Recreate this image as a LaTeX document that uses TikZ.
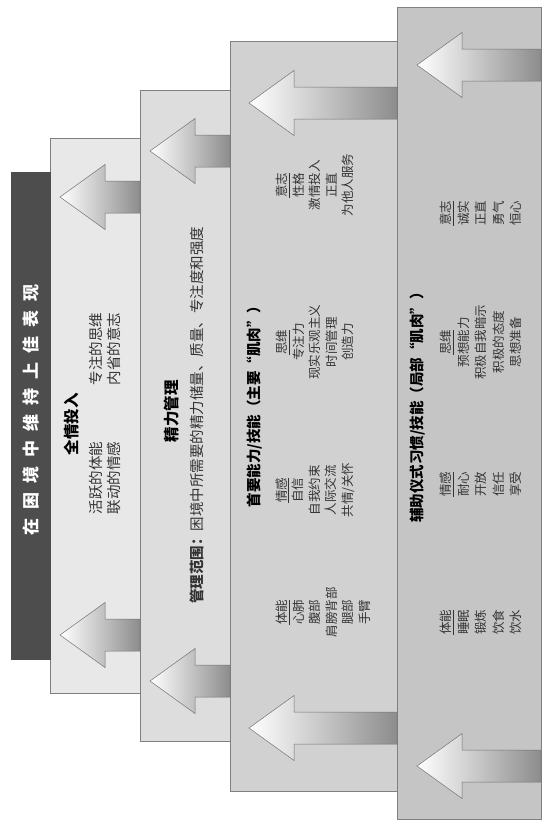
\documentclass[tikz,border=0pt]{standalone}
\usepackage{fontspec}
\setmainfont{Noto Sans CJK SC}
\usepackage{xcolor}

\definecolor{darkbar}{HTML}{4D4D4D}
\definecolor{pone}{HTML}{E8E8E8}
\definecolor{ptwo}{HTML}{DDDDDD}
\definecolor{pthree}{HTML}{D1D1D1}
\definecolor{pfour}{HTML}{C5C5C5}

% fat arrow pointing left: tip x, tip y, shaft end x
\newcommand{\fatarrow}[3]{%
  \path[arrowfill] (#1,#2) -- (#1+45,#2-32.5) -- (#1+45,#2-16) -- (#3,#2-16)
    -- (#3,#2+16) -- (#1+45,#2+16) -- (#1+45,#2+32.5) -- cycle;}
\newcommand{\widespace}{\spaceskip=9pt\relax}

\begin{document}
\begin{tikzpicture}[
    x=1pt, y=-1pt,
    panel/.style={rectangle, draw=black!50, line width=0.6pt, inner sep=0pt, outer sep=0pt},
    arrowfill/.style={draw=black!55, line width=0.5pt, left color=white, right color=black!45},
    bartitle/.style={rotate=90, text=white, font=\fontsize{17}{17}\selectfont\bfseries},
    headtext/.style={rotate=90, font=\fontsize{15.5}{18}\selectfont\bfseries},
    bigtitle/.style={rotate=90, font=\fontsize{14.5}{18}\selectfont\bfseries},
    bodytext/.style={rotate=90, align=center, text=black!80, font=\fontsize{14.5}{18}\selectfont},
    smallthree/.style={rotate=90, align=center, text=black!80, font=\fontsize{12.5}{16.5}\selectfont},
    smallfour/.style={rotate=90, align=center, text=black!80, font=\fontsize{12.5}{17.5}\selectfont}
]
\useasboundingbox (0,0) rectangle (551,831);

% Panels
\node[panel, fill=pfour, minimum width=144pt, minimum height=812pt] (p4) at (469,413) {};
\node[panel, fill=pthree, minimum width=167pt, minimum height=750pt] (p3) at (313.5,416) {};
\node[panel, fill=ptwo, minimum width=90pt, minimum height=651pt] (p2) at (185,415.5) {};
\node[panel, fill=pone, minimum width=90pt, minimum height=555pt] (p1) at (95,415.5) {};
\node[panel, fill=darkbar, draw=darkbar, minimum width=39pt, minimum height=487pt] (p0) at (30.5,415.5) {};

% Arrows
\fatarrow{60}{197}{140}
\fatarrow{60}{635}{140}
\fatarrow{150}{151}{230}
\fatarrow{150}{681}{230}
\fatarrow{249}{103}{397}
\fatarrow{249}{728}{397}
\fatarrow{417}{65}{541}
\fatarrow{417}{766}{541}

% Bar title
\node[bartitle] (t0) at (30.5,410) {\widespace 在 困 境 中 维 持 上 佳 表 现};

% Panel 1
\node[headtext] (t1) at (72,424) {全情投入};
\node[bodytext] (t1a) at (105,478) {活跃的体能\\联动的情感};
\node[bodytext] (t1b) at (105,349) {专注的思维\\内省的意志};

% Panel 2
\node[headtext] (t2) at (172,411) {精力管理};
\node[bodytext] (t2a) at (197,415) {\textbf{管理范围：}困境中所需要的精力储量、质量、专注度和强度};

% Panel 3
\node[bigtitle] (t3) at (255,403) {首要能力/技能（主要“肌肉”）};
\node[smallthree] (g31) at (323,612) {\underline{体能}\\心肺\\腹部\\肩膀背部\\腿部\\手臂};
\node[smallthree] (g32) at (315,490) {\underline{情感}\\自信\\自我约束\\人际交流\\共情/关怀};
\node[smallthree] (g33) at (315,342) {\underline{思维}\\专注力\\现实乐观主义\\时间管理\\创造力};
\node[smallthree] (g34) at (315,185) {\underline{意志}\\性格\\激情投入\\正直\\为他人服务};

% Panel 4
\node[bigtitle] (t4) at (418,404) {辅助仪式习惯/技能（局部“肌肉”）};
\node[smallfour] (g41) at (481,622) {\underline{体能}\\睡眠\\锻炼\\饮食\\饮水};
\node[smallfour] (g42) at (481,484) {\underline{情感}\\耐心\\开放\\信任\\享受};
\node[smallfour] (g43) at (481,342) {\underline{思维}\\预想能力\\积极自我暗示\\积极的态度\\思想准备};
\node[smallfour] (g44) at (481,213) {\underline{意志}\\诚实\\正直\\勇气\\恒心};

\end{tikzpicture}
\end{document}
